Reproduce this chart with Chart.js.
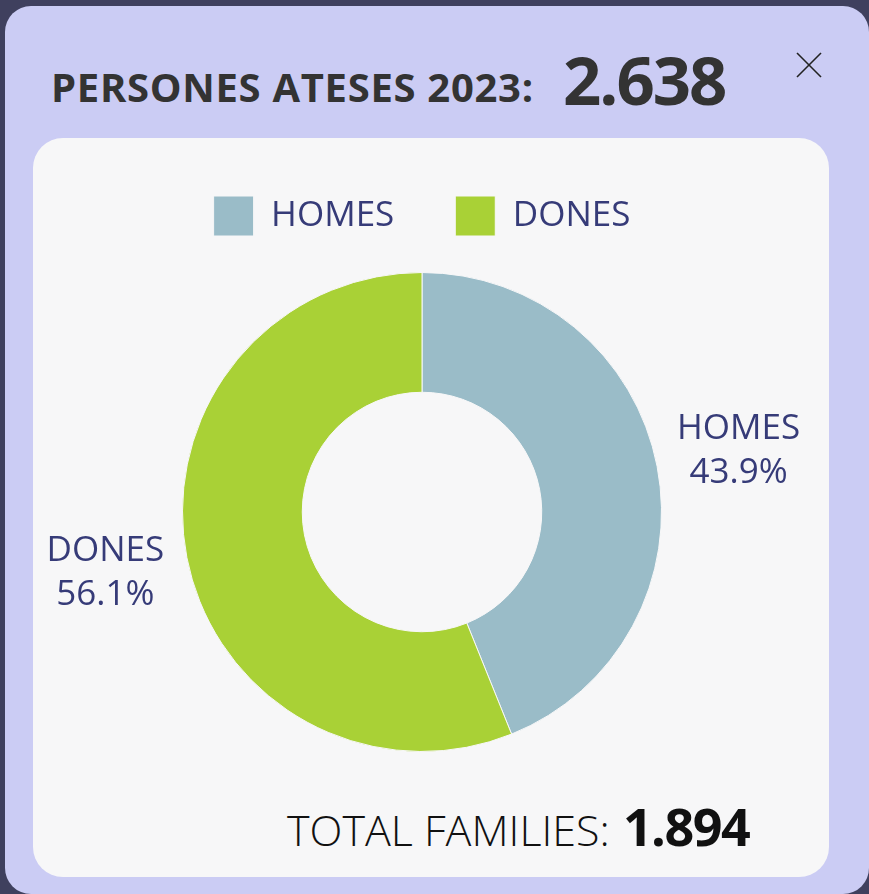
<!DOCTYPE html>
<html>
<head>
<meta charset="utf-8">
<script src="https://cdn.jsdelivr.net/npm/chart.js@4"></script>
<style>
  html, body { margin:0; padding:0; }
  body { width:869px; height:894px; overflow:hidden; background:#3f405e; position:relative; font-family:"Open Sans", sans-serif; }
  .card { position:absolute; left:5px; top:6px; width:864px; height:888px; border-radius:26px; background:#cbccf4; }
  .inner { position:absolute; left:33px; top:138px; width:796px; height:739px; border-radius:30px; background:#f7f7f8; }
  .title { position:absolute; left:51px; top:67px; font-size:40px; line-height:40px; font-weight:700; color:#333333; letter-spacing:0.7px; white-space:nowrap; }
  .big { position:absolute; left:563px; top:46px; font-size:67px; line-height:67px; font-weight:700; color:#333333; letter-spacing:-2px; white-space:nowrap; }
  .close { position:absolute; left:796px; top:52px; }
  .total { position:absolute; left:287px; top:804px; font-size:43px; line-height:43px; font-weight:300; color:#111; white-space:nowrap; letter-spacing:0px; }
  .total b { font-size:52px; font-weight:700; letter-spacing:-1.5px; margin-left:2px; }
  #c { position:absolute; left:33px; top:100px; }
</style>
</head>
<body>
<div class="card"></div>
<div class="inner"></div>
<div class="title">PERSONES ATESES 2023:</div>
<div class="big">2.638</div>
<svg class="close" width="26" height="26" viewBox="0 0 26 26"><line x1="1" y1="1" x2="25" y2="25" stroke="#222" stroke-width="1.6"/><line x1="25" y1="1" x2="1" y2="25" stroke="#222" stroke-width="1.6"/></svg>
<div class="total">TOTAL FAMILIES: <b>1.894</b></div>
<canvas id="c" width="796" height="652" style="width:796px;height:652px"></canvas>
<script>
const categories = ["HOMES", "DONES"];
const personsValues = [1158, 1480];
const sliceColors = ["#9abcc8", "#a9d136"];
const textColor = "#363b78";
const fontFamily = "'Open Sans', sans-serif";

const legendFit = {
  id: 'legendFit',
  afterInit(chart) {
    const lg = chart.legend;
    if (!lg || lg._patched) return;
    const orig = lg.fit;
    lg.fit = function () { orig.call(this); this.height = 137; };
    lg._patched = true;
  }
};

const outerLabels = {
  id: 'outerLabels',
  afterDatasetsDraw(chart) {
    const ctx = chart.ctx;
    const meta = chart.getDatasetMeta(0);
    const data = chart.data.datasets[0].data;
    const total = data.reduce((a, b) => a + b, 0);
    ctx.save();
    ctx.fillStyle = textColor;
    ctx.font = "35px " + fontFamily;
    ctx.textAlign = 'center';
    ctx.textBaseline = 'middle';
    meta.data.forEach((arc, i) => {
      const p = arc.getProps(['x', 'y', 'startAngle', 'endAngle', 'outerRadius'], true);
      const mid = (p.startAngle + p.endAngle) / 2;
      const r = p.outerRadius + 83;
      const cx = p.x + Math.cos(mid) * r;
      const cy = p.y + Math.sin(mid) * r;
      const pct = (data[i] / total * 100).toFixed(1) + '%';
      ctx.fillText(chart.data.labels[i], cx, cy - 22);
      ctx.fillText(pct, cx, cy + 22);
    });
    ctx.restore();
  }
};

new Chart(document.getElementById('c'), {
  type: 'doughnut',
  data: {
    labels: categories,
    datasets: [{
      data: personsValues,
      backgroundColor: sliceColors,
      borderColor: '#f7f7f8',
      borderWidth: 1,
      hoverOffset: 0
    }]
  },
  options: {
    responsive: false,
    animation: false,
    cutout: '50%',
    layout: { padding: { top: 35, bottom: 0, left: 0, right: 18 } },
    plugins: {
      tooltip: { enabled: false },
      legend: {
        position: 'top',
        labels: {
          boxWidth: 40,
          boxHeight: 40,
          padding: 61,
          color: textColor,
          font: { size: 35, family: fontFamily }
        }
      }
    }
  },
  plugins: [legendFit, outerLabels]
});
</script>
</body>
</html>
